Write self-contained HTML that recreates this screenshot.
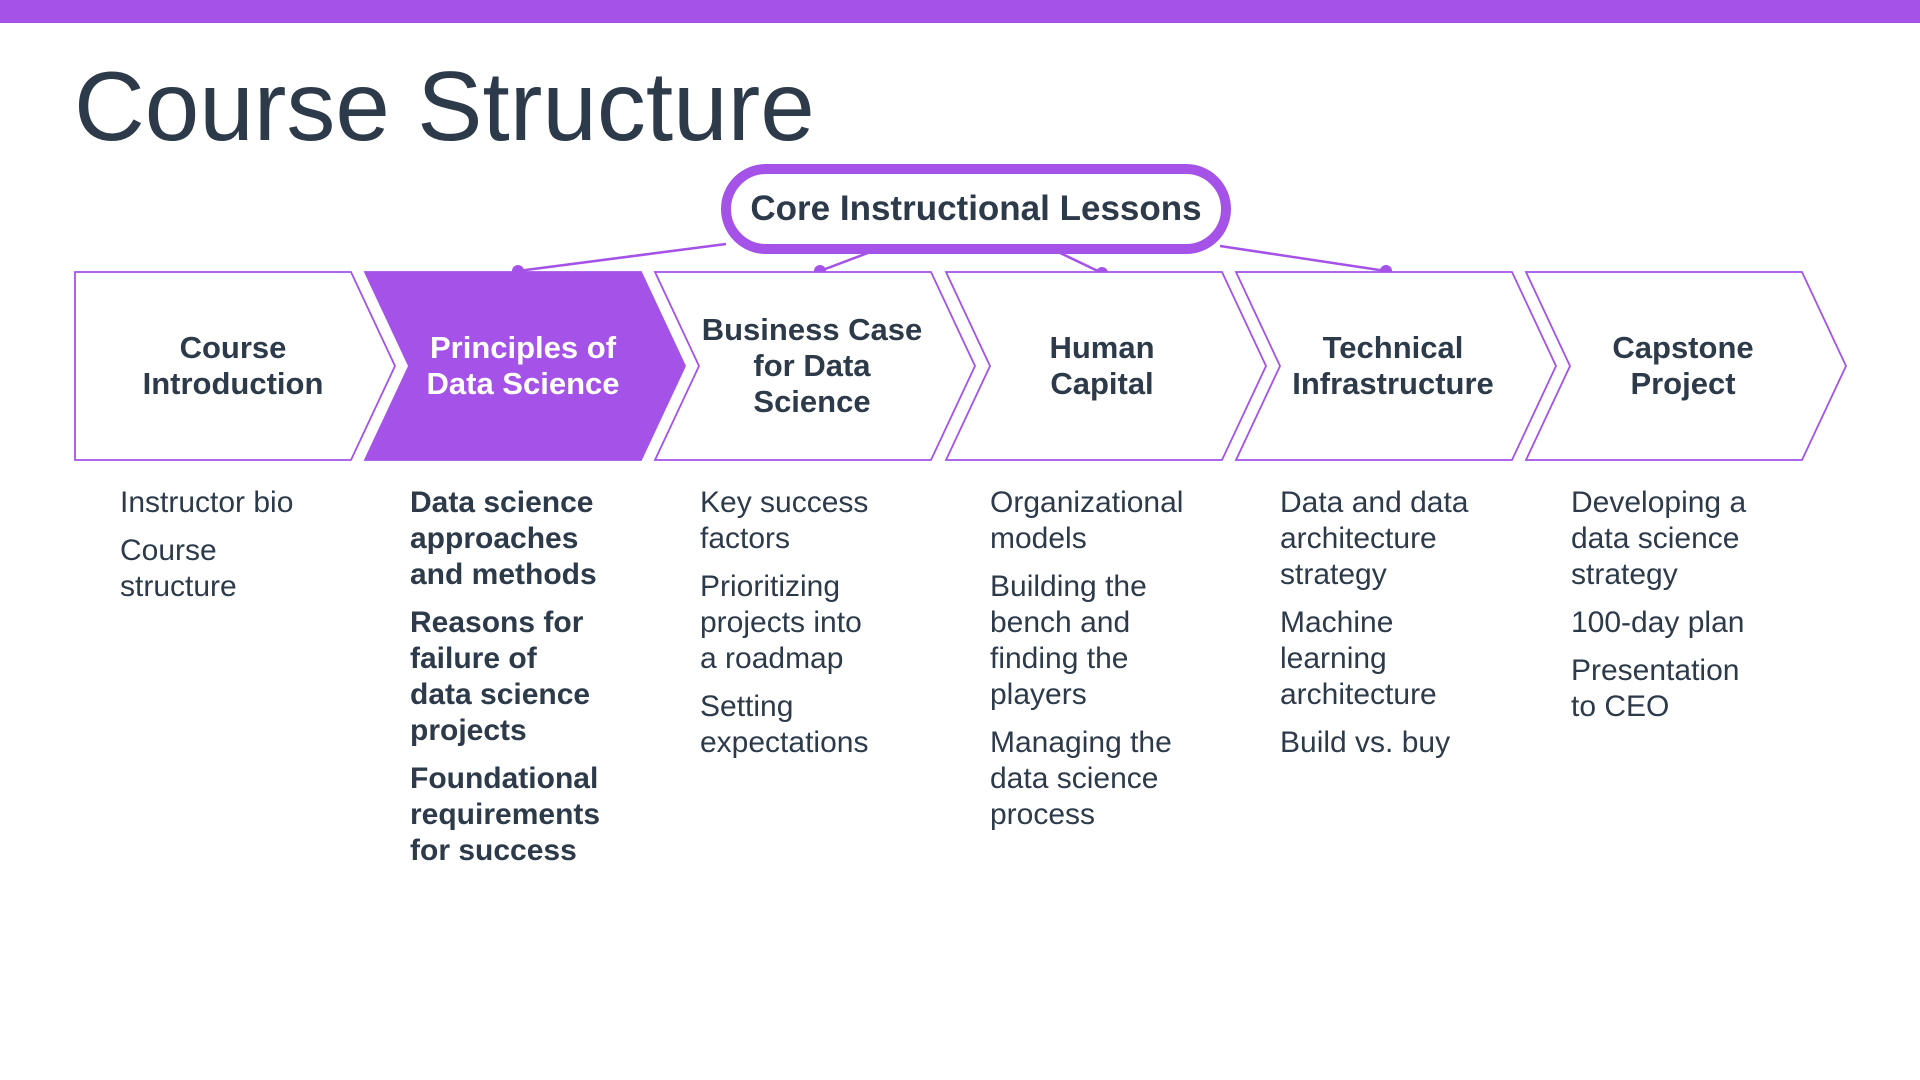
<!DOCTYPE html>
<html><head><meta charset="utf-8"><style>
body{margin:0;width:1920px;height:1080px;background:#fff;position:relative;overflow:hidden;font-family:"Liberation Sans",sans-serif;color:#2d3a4a}
.bar{position:absolute;left:0;top:0;width:1920px;height:23px;background:#a452e8}
h1{position:absolute;left:74px;top:50px;margin:0;font-weight:normal;font-size:98px;line-height:112px;color:#2d3a4a;letter-spacing:0px}
.hd{position:absolute;top:272px;height:188px;width:240px;display:flex;align-items:center;justify-content:center;text-align:center;font-weight:bold;font-size:31px;line-height:36px}
.col{position:absolute;top:485px;width:250px;font-size:30px;line-height:36px;color:#2d3a4a}
.col div{margin-bottom:12px}
.b{font-weight:bold}
.pill{position:absolute;left:721px;top:164px;width:490px;height:70px;border:10px solid #a452e8;border-radius:46px;display:flex;align-items:center;justify-content:center;font-weight:bold;font-size:35px}
</style></head><body>
<div class="bar"></div>
<h1>Course Structure</h1>
<svg width="1920" height="1080" style="position:absolute;left:0;top:0">
<g stroke="#a452e8" stroke-width="2.5" fill="none">
<line x1="726" y1="244" x2="518" y2="271"/>
<line x1="873" y1="251" x2="820" y2="271"/>
<line x1="1056" y1="251" x2="1102" y2="273"/>
<line x1="1220" y1="246" x2="1386" y2="271"/>
</g>
<g fill="#a452e8"><circle cx="518" cy="271" r="6"/><circle cx="820" cy="271" r="6"/><circle cx="1102" cy="273" r="6"/><circle cx="1386" cy="271" r="6"/></g>
<g stroke="#a452e8" stroke-width="1.8" fill="#fff">
<polygon points="75,272 351,272 395,366 351,460 75,460"/>
<polygon points="365,272 641,272 685,366 641,460 365,460 409,366" fill="#a452e8"/>
<polygon points="655,272 931,272 975,366 931,460 655,460 699,366"/>
<polygon points="946,272 1222,272 1266,366 1222,460 946,460 990,366"/>
<polygon points="1236,272 1512,272 1556,366 1512,460 1236,460 1280,366"/>
<polygon points="1526,272 1802,272 1846,366 1802,460 1526,460 1570,366"/>
</g>
</svg>
<div class="pill">Core Instructional Lessons</div>
<div class="hd" style="left:113px">Course<br>Introduction</div>
<div class="hd" style="left:403px;color:#fff">Principles of<br>Data Science</div>
<div class="hd" style="left:692px">Business Case<br>for Data<br>Science</div>
<div class="hd" style="left:982px">Human<br>Capital</div>
<div class="hd" style="left:1273px">Technical<br>Infrastructure</div>
<div class="hd" style="left:1563px">Capstone<br>Project</div>
<div class="col" style="left:120px"><div>Instructor bio</div><div>Course<br>structure</div></div>
<div class="col b" style="left:410px"><div>Data science<br>approaches<br>and methods</div><div>Reasons for<br>failure of<br>data science<br>projects</div><div>Foundational<br>requirements<br>for success</div></div>
<div class="col" style="left:700px"><div>Key success<br>factors</div><div>Prioritizing<br>projects into<br>a roadmap</div><div>Setting<br>expectations</div></div>
<div class="col" style="left:990px"><div>Organizational<br>models</div><div>Building the<br>bench and<br>finding the<br>players</div><div>Managing the<br>data science<br>process</div></div>
<div class="col" style="left:1280px"><div>Data and data<br>architecture<br>strategy</div><div>Machine<br>learning<br>architecture</div><div>Build vs. buy</div></div>
<div class="col" style="left:1571px"><div>Developing a<br>data science<br>strategy</div><div>100-day plan</div><div>Presentation<br>to CEO</div></div>
</body></html>
